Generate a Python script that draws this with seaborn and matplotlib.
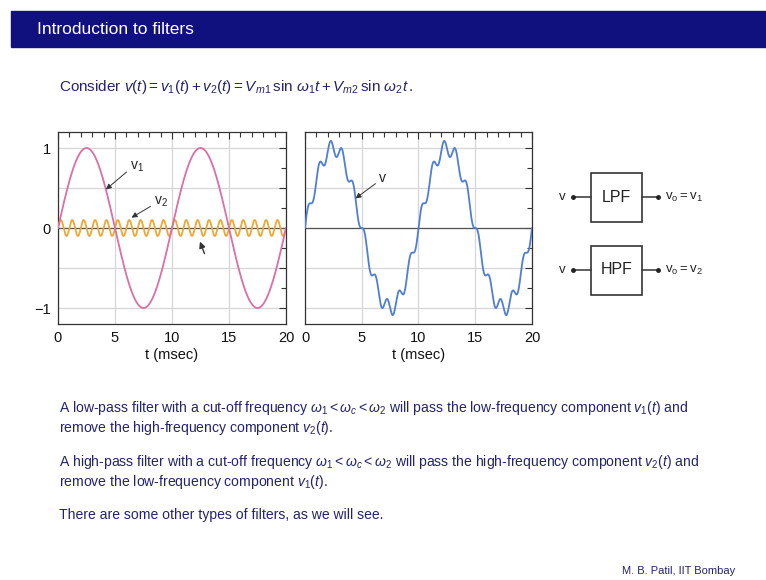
import numpy as np
import pandas as pd
import matplotlib
matplotlib.use("Agg")
import matplotlib.pyplot as plt
from matplotlib.patches import Rectangle
from matplotlib.ticker import MultipleLocator, FixedLocator
import seaborn as sns

# Signal components: v(t) = Vm1 sin(w1 t) + Vm2 sin(w2 t)
component_names = ["v1", "v2"]
amplitudes = [1.0, 0.1]          # Vm1, Vm2 (V)
frequencies_khz = [0.1, 1.0]     # f1, f2 (kHz), t in msec
line_colors = {"v1": "#dc6fa3", "v2": "#f0a733", "v": "#4f7ed3"}

x_ticks = [0, 5, 10, 15, 20]
y_ticks = [-1, 0, 1]

W, H = 766, 580
sns.set_theme(style="white")
plt.rcParams["font.family"] = ["Liberation Sans", "DejaVu Sans"]
plt.rcParams["mathtext.fontset"] = "custom"
plt.rcParams["mathtext.rm"] = "Liberation Sans"
plt.rcParams["mathtext.it"] = "Liberation Sans:italic"

t = np.linspace(0, 20, 4001)
parts = {n: a * np.sin(2 * np.pi * f * t)
         for n, a, f in zip(component_names, amplitudes, frequencies_khz)}
total = parts["v1"] + parts["v2"]
df_parts = pd.concat([pd.DataFrame({"t": t, "value": parts[n], "signal": n})
                      for n in component_names], ignore_index=True)
df_total = pd.DataFrame({"t": t, "value": total, "signal": "v"})

fig = plt.figure(figsize=(W / 100, H / 100), dpi=100)
fig.patch.set_facecolor("white")


def px_axes(x0, y0, x1, y1):
    return fig.add_axes([x0 / W, 1 - y1 / H, (x1 - x0) / W, (y1 - y0) / H])


navy = "#24246c"

# Slide title bar
fig.patches.append(Rectangle((11 / W, 1 - 47 / H), 1, 36 / H,
                             transform=fig.transFigure, color="#10107f", zorder=0))
fig.text(37 / W, 1 - 30 / H, "Introduction to filters", color="white",
         fontsize=12.5, va="center", ha="left")

fig.text(59 / W, 1 - 87 / H,
         r"Consider $v(t) = v_1(t) + v_2(t) = V_{m1}\,\sin\,\omega_1 t + V_{m2}\,\sin\,\omega_2 t\,.$",
         color=navy, fontsize=11, va="center", ha="left")


def style_axes(ax, show_ylabels=True):
    ax.set_xlim(0, 20)
    ax.set_ylim(-1.2, 1.2)
    ax.xaxis.set_major_locator(FixedLocator(x_ticks))
    ax.xaxis.set_minor_locator(MultipleLocator(1))
    ax.yaxis.set_major_locator(FixedLocator([-1, -0.5, 0, 0.5, 1]))
    ax.yaxis.set_minor_locator(MultipleLocator(0.25))
    ax.set_xticklabels([str(v) for v in x_ticks])
    if show_ylabels:
        ax.set_yticklabels(["\u22121", "", "0", "", "1"])
    else:
        ax.set_yticklabels([])
    ax.grid(True, which="major", color="#d6d6d6", lw=0.9)
    ax.axhline(0, color="#555555", lw=0.9, zorder=1.5)
    ax.tick_params(which="both", direction="in", top=True, right=True,
                   color="#333333", width=0.8, labelsize=10.5, pad=5,
                   labelcolor="#111111")
    ax.tick_params(which="major", length=5)
    ax.tick_params(which="minor", length=3.5)
    for s in ax.spines.values():
        s.set_color("#333333")
        s.set_linewidth(0.9)
    ax.set_xlabel("t (msec)", fontsize=10.5, color="#111111", labelpad=2)
    ax.set_ylabel("")


# Left panel: the two components
ax1 = px_axes(58, 132, 286, 324)
sns.lineplot(data=df_parts, x="t", y="value", hue="signal",
             palette=line_colors, hue_order=["v2", "v1"], lw=1.3,
             legend=False, ax=ax1, zorder=3)
style_axes(ax1)
arrow_kw = dict(arrowstyle="-|>", color="#333333", lw=0.7, mutation_scale=8,
                shrinkA=0, shrinkB=0)
t_a = 4.2
ax1.annotate(r"$\mathregular{v_1}$",
             xy=(t_a, amplitudes[0] * np.sin(2 * np.pi * frequencies_khz[0] * t_a)),
             xytext=(6.3, 0.77), fontsize=10, color="#222222", va="center",
             arrowprops=dict(arrow_kw, relpos=(0, 0.3)))
ax1.annotate(r"$\mathregular{v_2}$", xy=(6.45, 0.13), xytext=(8.4, 0.33),
             fontsize=10, color="#222222", va="center",
             arrowprops=dict(arrow_kw, relpos=(0, 0.3)))
ax1.annotate("", xy=(12.45, -0.17), xytext=(12.85, -0.32),
             arrowprops=dict(arrow_kw, lw=1.0, mutation_scale=9))

# Right panel: the sum v = v1 + v2
ax2 = px_axes(305, 132, 532, 324)
sns.lineplot(data=df_total, x="t", y="value", color=line_colors["v"], lw=1.3,
             legend=False, ax=ax2, zorder=3)
style_axes(ax2, show_ylabels=False)
t_b = 4.45
ax2.annotate("v", xy=(t_b, np.interp(t_b, t, total)), xytext=(6.5, 0.62),
             fontsize=10, color="#222222", va="center",
             arrowprops=dict(arrow_kw, relpos=(0, 0.3)))

# Filter block diagrams
axd = fig.add_axes([0, 0, 1, 1], zorder=-1)
axd.set_xlim(0, W)
axd.set_ylim(H, 0)
axd.axis("off")
blocks = [("LPF", 197, r"$\mathregular{v_o = v_1}$"),
          ("HPF", 270, r"$\mathregular{v_o = v_2}$")]
for name, yc, out in blocks:
    axd.add_patch(Rectangle((591, yc - 24.5), 51, 49, fill=False,
                            ec="#333333", lw=1.2))
    axd.text(616.5, yc, name, ha="center", va="center", fontsize=11.5, color="#222222")
    axd.plot([573, 591], [yc, yc], color="#333333", lw=1.1)
    axd.plot([642, 658], [yc, yc], color="#333333", lw=1.1)
    axd.plot([573, 658], [yc, yc], ls="none", marker="o", ms=2.5, color="#222222")
    axd.text(566, yc, "v", ha="right", va="center", fontsize=9.5, color="#222222")
    axd.text(665, yc, out, ha="left", va="center", fontsize=9.5, color="#222222")

# Body text
lines = [
    (408, r"A low-pass filter with a cut-off frequency $\omega_1 < \omega_c < \omega_2$ will pass the low-frequency component $v_1(t)$ and"),
    (428, r"remove the high-frequency component $v_2(t)$."),
    (462, r"A high-pass filter with a cut-off frequency $\omega_1 < \omega_c < \omega_2$ will pass the high-frequency component $v_2(t)$ and"),
    (482, r"remove the low-frequency component $v_1(t)$."),
    (515, r"There are some other types of filters, as we will see."),
]
for y, s in lines:
    fig.text(59 / W, 1 - y / H, s, color=navy, fontsize=10.1, va="center", ha="left")

fig.text(622 / W, 1 - 571 / H, "M. B. Patil, IIT Bombay", color=navy,
         fontsize=8, va="center", ha="left")

fig.savefig("out.png", dpi=100)
